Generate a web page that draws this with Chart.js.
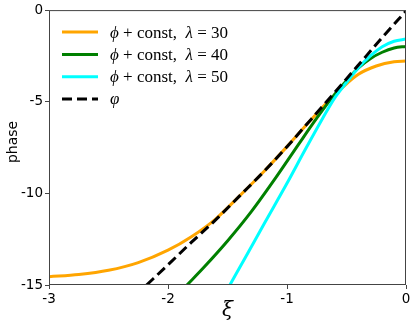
<!DOCTYPE html>
<html>
<head>
<meta charset="utf-8">
<script src="https://cdn.jsdelivr.net/npm/chart.js@4.4.0/dist/chart.umd.min.js"></script>
<style>
  html, body { margin: 0; padding: 0; background: #fff; }
  #wrap { width: 415px; height: 324px; }
</style>
</head>
<body>
<div id="wrap"><canvas id="myChart" width="415" height="324"></canvas></div>
<script>
// values
var orangeX = [-3, -2.75, -2.5, -2.25, -2.0, -1.8, -1.6, -1.4, -1.2, -1.0, -0.8, -0.65, -0.53, -0.4, -0.25, -0.1, 0];
var orangeY = [-14.55, -14.43, -14.2, -13.78, -13.1, -12.35, -11.4, -10.15, -8.85, -7.45, -6.0, -4.95, -4.2, -3.5, -3.05, -2.82, -2.78];

var greenX = [-1.84, -1.7, -1.5, -1.3, -1.1, -0.9, -0.75, -0.6, -0.5, -0.4, -0.3, -0.2, -0.1, 0];
var greenY = [-15, -14.05, -12.6, -11.0, -9.2, -7.3, -5.9, -4.6, -3.85, -3.15, -2.65, -2.3, -2.07, -1.98];

var cyanX = [-1.48, -1.35, -1.2, -1.0, -0.85, -0.7, -0.6, -0.5, -0.4, -0.3, -0.2, -0.1, 0];
var cyanY = [-15, -13.5, -11.75, -9.45, -7.65, -5.9, -4.8, -3.95, -3.15, -2.5, -2.0, -1.7, -1.58];

var phiX = [-2.18, -2.0, -1.8, -1.6, -1.4, -1.2, -1.0, -0.8, -0.6, -0.4, -0.2, 0];
var phiY = [-15, -13.9, -12.65, -11.45, -10.15, -8.85, -7.45, -5.98, -4.5, -3.0, -1.5, -0.05];

var lambdas = ['30', '40', '50'];
var xTicks = [-3, -2, -1, 0];
var yTicks = [0, -5, -10, -15];

function pts(xs, ys) {
  var out = [];
  for (let i in xs) out.push({ x: xs[i], y: ys[i] });
  return out;
}

// legend drawn by hand so the math text can mix fonts
var mathLegend = {
  id: 'mathLegend',
  afterDraw: function (chart) {
    var ctx = chart.ctx;
    var ds = chart.data.datasets;
    var left = chart.chartArea.left + 13;
    var top = chart.chartArea.top + 22;
    ctx.save();
    [0, 1, 2, 3].forEach(function (r) {
      var d = ds[r];
      var y = top + r * 22.3;
      ctx.beginPath();
      ctx.lineWidth = 3;
      ctx.strokeStyle = d.borderColor;
      ctx.setLineDash(d.borderDash || []);
      ctx.moveTo(left, y);
      ctx.lineTo(left + 36, y);
      ctx.stroke();
      ctx.setLineDash([]);
      ctx.fillStyle = '#000';
      ctx.textBaseline = 'middle';
      var x = left + 48;
      d.mathParts.forEach(function (p) {
        ctx.font = p[1];
        ctx.fillText(p[0], x, y + 1);
        x += ctx.measureText(p[0]).width;
      });
    });
    ctx.restore();
  }
};

// frame and axis titles
var frame = {
  id: 'frame',
  afterDraw: function (chart) {
    var ctx = chart.ctx;
    var a = chart.chartArea;
    ctx.save();
    ctx.strokeStyle = '#444';
    ctx.lineWidth = 1;
    ctx.strokeRect(a.left + 0.5, a.top + 0.5, a.right - a.left - 1, a.bottom - a.top - 1);
    ctx.fillStyle = '#000';
    ctx.font = '14px "DejaVu Sans"';
    ctx.textAlign = 'center';
    ctx.textBaseline = 'middle';
    ctx.translate(13, 142);
    ctx.rotate(-Math.PI / 2);
    ctx.fillText('phase', 0, 0);
    ctx.restore();
    ctx.save();
    ctx.fillStyle = '#000';
    ctx.font = 'italic 20px "DejaVu Serif"';
    ctx.textAlign = 'center';
    ctx.textBaseline = 'middle';
    ctx.fillText('ξ', (a.left + a.right) / 2, 311);
    ctx.restore();
  }
};

var ser = '17px "Liberation Serif"';
var serI = 'italic 17px "Liberation Serif"';
function lamParts(l) {
  return [['ϕ', serI], [' + ', ser], ['const,', ser], ['  ', ser], ['λ', serI], [' = ' + l, ser]];
}

var colors = ['#FFA500', '#008000', '#00FFFF'];

const myChart = new Chart('myChart', {
  type: 'line',
  data: {
    datasets: [
      { data: pts(orangeX, orangeY), borderColor: colors[0], borderWidth: 3, order: 3, mathParts: lamParts(lambdas[0]) },
      { data: pts(greenX, greenY), borderColor: colors[1], borderWidth: 3, order: 2, mathParts: lamParts(lambdas[1]) },
      { data: pts(cyanX, cyanY), borderColor: colors[2], borderWidth: 3, order: 1, mathParts: lamParts(lambdas[2]) },
      { data: pts(phiX, phiY), borderColor: '#000', borderWidth: 3, borderDash: [10, 5], order: 0, mathParts: [['φ', serI]] }
    ]
  },
  options: {
    responsive: false,
    animation: false,
    events: [],
    layout: { padding: { top: 8, right: 9, left: 0, bottom: 0 } },
    elements: {
      point: { radius: 0 },
      line: { cubicInterpolationMode: 'monotone', fill: false }
    },
    plugins: { legend: { display: false }, tooltip: { enabled: false } },
    scales: {
      x: {
        type: 'linear', min: -3, max: 0,
        afterBuildTicks: function (s) { s.ticks = xTicks.map(v => ({ value: v })); },
        afterFit: function (s) { s.height = 39; },
        grid: { drawOnChartArea: false, drawTicks: true, tickLength: 4, color: '#444' },
        border: { display: false },
        ticks: { color: '#000', padding: 2, maxRotation: 0, font: { family: 'DejaVu Sans', size: 13.5 },
          callback: v => String(v) }
      },
      y: {
        type: 'linear', min: -15, max: 0,
        afterBuildTicks: function (s) { s.ticks = yTicks.map(v => ({ value: v })); },
        afterFit: function (s) { s.width = 49; },
        grid: { drawOnChartArea: false, drawTicks: true, tickLength: 4, color: '#444' },
        border: { display: false },
        ticks: { color: '#000', padding: 2, font: { family: 'DejaVu Sans', size: 13.5 },
          callback: v => String(v) }
      }
    }
  },
  plugins: [mathLegend, frame]
});
</script>
</body>
</html>
